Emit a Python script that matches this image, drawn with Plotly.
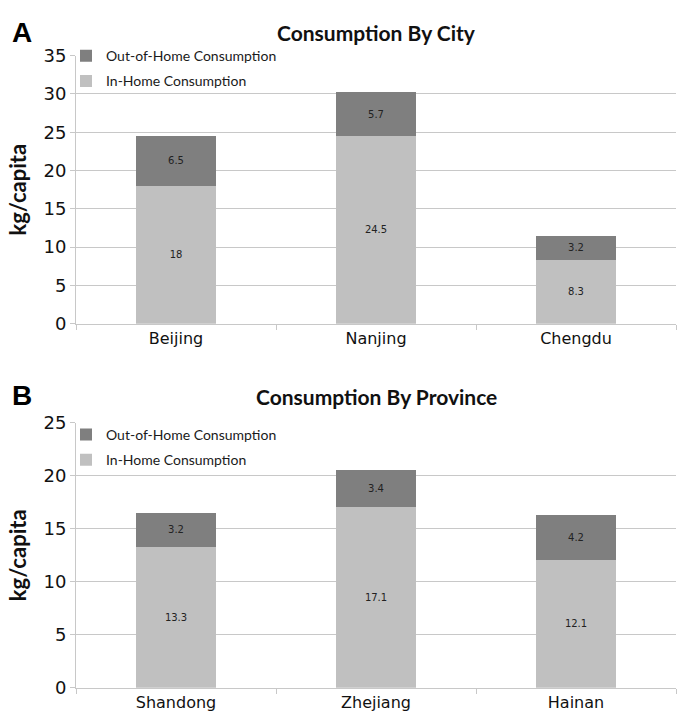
import plotly.graph_objects as go

# Data (kg/capita)
cities = ["Beijing", "Nanjing", "Chengdu"]
city_in_home = [18, 24.5, 8.3]
city_out_home = [6.5, 5.7, 3.2]

provinces = ["Shandong", "Zhejiang", "Hainan"]
prov_in_home = [13.3, 17.1, 12.1]
prov_out_home = [3.2, 3.4, 4.2]

IN_COLOR = "#c0c0c0"
OUT_COLOR = "#7f7f7f"
GRID = "#c8c8c8"
W, H = 681, 727

fig = go.Figure()


def add_panel(cats, in_vals, out_vals, xa, ya, legend):
    fig.add_trace(go.Bar(
        x=cats, y=in_vals, name="In-Home Consumption",
        marker=dict(color=IN_COLOR, line=dict(width=0)),
        text=[f"{v:g}" for v in in_vals], textposition="inside",
        insidetextanchor="middle", textfont=dict(family="DejaVu Sans", size=10, color="#222222"),
        width=0.4, xaxis=xa, yaxis=ya, legend=legend, legendgroup=legend + "in",
        legendrank=2,
    ))
    fig.add_trace(go.Bar(
        x=cats, y=out_vals, name="Out-of-Home Consumption",
        marker=dict(color=OUT_COLOR, line=dict(width=0)),
        text=[f"{v:g}" for v in out_vals], textposition="inside",
        insidetextanchor="middle", textfont=dict(family="DejaVu Sans", size=10, color="#222222"),
        width=0.4, xaxis=xa, yaxis=ya, legend=legend, legendgroup=legend + "out",
        legendrank=1,
    ))


add_panel(cities, city_in_home, city_out_home, "x", "y", "legend")
add_panel(provinces, prov_in_home, prov_out_home, "x2", "y2", "legend2")

x_dom = [76 / W, 676 / W]
yA = [1 - 322 / H, 1 - 46 / H]
yB = [1 - 697 / H, 1 - 424 / H]

xaxis_style = dict(
    domain=x_dom, showline=True, linecolor=GRID, linewidth=1,
    ticks="outside", tickson="boundaries", ticklen=5, tickcolor=GRID,
    tickfont=dict(family="DejaVu Sans", size=16, color="#111111"),
    showgrid=False,
)
yaxis_style = dict(
    showline=True, linecolor=GRID, linewidth=1, showgrid=True, gridcolor=GRID,
    ticks="outside", ticklen=5, tickcolor=GRID,
    tickfont=dict(family="DejaVu Sans", size=18, color="#111111"),
    title=dict(text="<b>kg/capita</b>", font=dict(family="Lato", size=22, color="#111111"), standoff=10),
    zeroline=False,
)

legend_style = dict(
    bgcolor="rgba(0,0,0,0)", traceorder="grouped", tracegroupgap=4,
    font=dict(family="Lato", size=14, color="#1a1a1a"),
    xanchor="left", yanchor="top", itemwidth=30,
)

fig.update_layout(
    width=W, height=H, margin=dict(l=0, r=0, t=0, b=0),
    paper_bgcolor="white", plot_bgcolor="white",
    barmode="stack", showlegend=True,
    xaxis=dict(**xaxis_style, anchor="y"),
    yaxis=dict(**yaxis_style, domain=yA, range=[0, 35], dtick=5, anchor="x"),
    xaxis2=dict(**xaxis_style, anchor="y2"),
    yaxis2=dict(**yaxis_style, domain=yB, range=[0, 25], dtick=5, anchor="x2"),
    legend=dict(**legend_style, x=66 / W, y=1 - 30 / H),
    legend2=dict(**legend_style, x=66 / W, y=1 - 420 / H),
)

annotations = [
    dict(text="<b>A</b>", x=10 / W, y=1 - 22 / H),
    dict(text="<b>B</b>", x=10 / W, y=1 - 396 / H),
]
for a in annotations:
    fig.add_annotation(xref="paper", yref="paper", xanchor="left", yanchor="middle",
                       showarrow=False, font=dict(family="Liberation Sans", size=28, color="#000000"), **a)

titles = [
    dict(text="<b>Consumption By City</b>", y=1 - 22 / H),
    dict(text="<b>Consumption By Province</b>", y=1 - 397 / H),
]
for t in titles:
    fig.add_annotation(xref="paper", yref="paper", x=376 / W, xanchor="center", yanchor="middle",
                       showarrow=False, font=dict(family="Lato", size=21, color="#111111"), **t)

fig.write_html("out.html")
